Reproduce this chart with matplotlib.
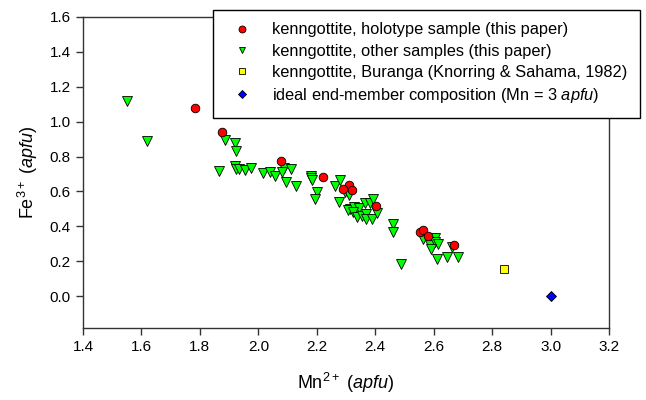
import matplotlib
matplotlib.use('Agg')  # no UI backend
import matplotlib.pyplot as plt
from matplotlib.lines import Line2D

plt.rcParams['font.family'] = ['Liberation Sans', 'DejaVu Sans']
plt.rcParams['mathtext.fontset'] = 'custom'
plt.rcParams['mathtext.rm'] = 'Liberation Sans'
plt.rcParams['mathtext.it'] = 'Liberation Sans:italic'

# holotype sample (this paper)
holo_mn = [1.782, 1.875, 2.077, 2.222, 2.310, 2.290, 2.322, 2.404, 2.554, 2.563, 2.580, 2.671]
holo_fe = [1.078, 0.939, 0.775, 0.682, 0.638, 0.616, 0.611, 0.519, 0.367, 0.381, 0.343, 0.291]

# other samples (this paper)
other_mn = [1.550, 1.619, 1.887, 1.921, 1.922, 1.866, 1.919, 1.925, 1.933, 1.953,
            1.975, 2.015, 2.041, 2.058, 2.088, 2.080, 2.112, 2.094, 2.130, 2.180,
            2.181, 2.182, 2.200, 2.193, 2.262, 2.279, 2.296, 2.311, 2.276, 2.313,
            2.308, 2.328, 2.345, 2.325, 2.338, 2.356, 2.367, 2.367, 2.388, 2.364,
            2.381, 2.392, 2.406, 2.460, 2.462, 2.489, 2.565, 2.604, 2.587, 2.605,
            2.616, 2.592, 2.662, 2.613, 2.647, 2.683]
other_fe = [1.120, 0.891, 0.893, 0.878, 0.834, 0.720, 0.745, 0.730, 0.730, 0.722,
            0.737, 0.707, 0.710, 0.686, 0.737, 0.710, 0.730, 0.656, 0.632, 0.690,
            0.675, 0.665, 0.598, 0.555, 0.633, 0.665, 0.598, 0.582, 0.541, 0.500,
            0.493, 0.508, 0.505, 0.482, 0.455, 0.459, 0.472, 0.444, 0.442, 0.535,
            0.535, 0.558, 0.475, 0.414, 0.370, 0.186, 0.330, 0.335, 0.294, 0.308,
            0.300, 0.269, 0.283, 0.211, 0.227, 0.227]

# Buranga (Knorring & Sahama, 1982)
bur_mn = [2.841]
bur_fe = [0.158]

# ideal end-member
ideal_mn = [3.0]
ideal_fe = [0.0]

labels = ["kenngottite, holotype sample (this paper)",
          "kenngottite, other samples (this paper)",
          "kenngottite, Buranga (Knorring & Sahama, 1982)",
          "ideal end-member composition (Mn = 3 $\\mathit{apfu)}$"]

fig = plt.figure(figsize=(6.46, 4.0), dpi=100)
ax = fig.add_axes([83/646, 1-327.5/400, (609-83)/646, (327.5-17)/400])

ax.plot(other_mn, other_fe, 'v', ms=6.6, mfc='#00ff00', mec='black', mew=0.6, ls='none')
ax.plot(holo_mn, holo_fe, 'o', ms=6.2, mfc='#ff0000', mec='black', mew=0.6, ls='none')
ax.plot(bur_mn, bur_fe, 's', ms=5.5, mfc='#ffff00', mec='black', mew=0.6, ls='none')
ax.plot(ideal_mn, ideal_fe, 'D', ms=5.5, mfc='#0000ff', mec='black', mew=0.6, ls='none')

ax.set_xlim(1.4, 3.2)
ax.set_ylim(-0.18, 1.6)
ax.set_xticks([1.4, 1.6, 1.8, 2.0, 2.2, 2.4, 2.6, 2.8, 3.0, 3.2])
ax.set_yticks([0.0, 0.2, 0.4, 0.6, 0.8, 1.0, 1.2, 1.4, 1.6])
ax.set_xticklabels(['%.1f' % v for v in ax.get_xticks()])
ax.set_yticklabels(['%.1f' % v for v in ax.get_yticks()])
ax.tick_params(direction='out', length=5, width=1, color='#333333', labelsize=11, pad=4)
for s in ax.spines.values():
    s.set_color('#333333')
    s.set_linewidth(1.0)

ax.set_xlabel("Mn$^{2+}$ ($\\mathit{apfu}$)", fontsize=13, labelpad=12)
ax.set_ylabel("Fe$^{3+}$ ($\\mathit{apfu}$)", fontsize=13, labelpad=7)

handles = [
    Line2D([], [], marker='o', ls='none', ms=5, mfc='#ff0000', mec='black', mew=0.6),
    Line2D([], [], marker='v', ls='none', ms=5, mfc='#00ff00', mec='black', mew=0.6),
    Line2D([], [], marker='s', ls='none', ms=4.5, mfc='#ffff00', mec='black', mew=0.6),
    Line2D([], [], marker='D', ls='none', ms=4.5, mfc='#0000ff', mec='black', mew=0.6),
]
leg = fig.legend(handles, labels, loc='upper left', bbox_to_anchor=(213/646, 1-10/400),
                 bbox_transform=fig.transFigure, borderaxespad=0, fancybox=False,
                 framealpha=1, edgecolor='black', fontsize=11.8, handlelength=2.05,
                 handletextpad=0.8, labelspacing=0.38, borderpad=0.76)
leg.get_frame().set_linewidth(1.0)
leg.set_zorder(5)

fig.savefig("out.png", dpi=100)
